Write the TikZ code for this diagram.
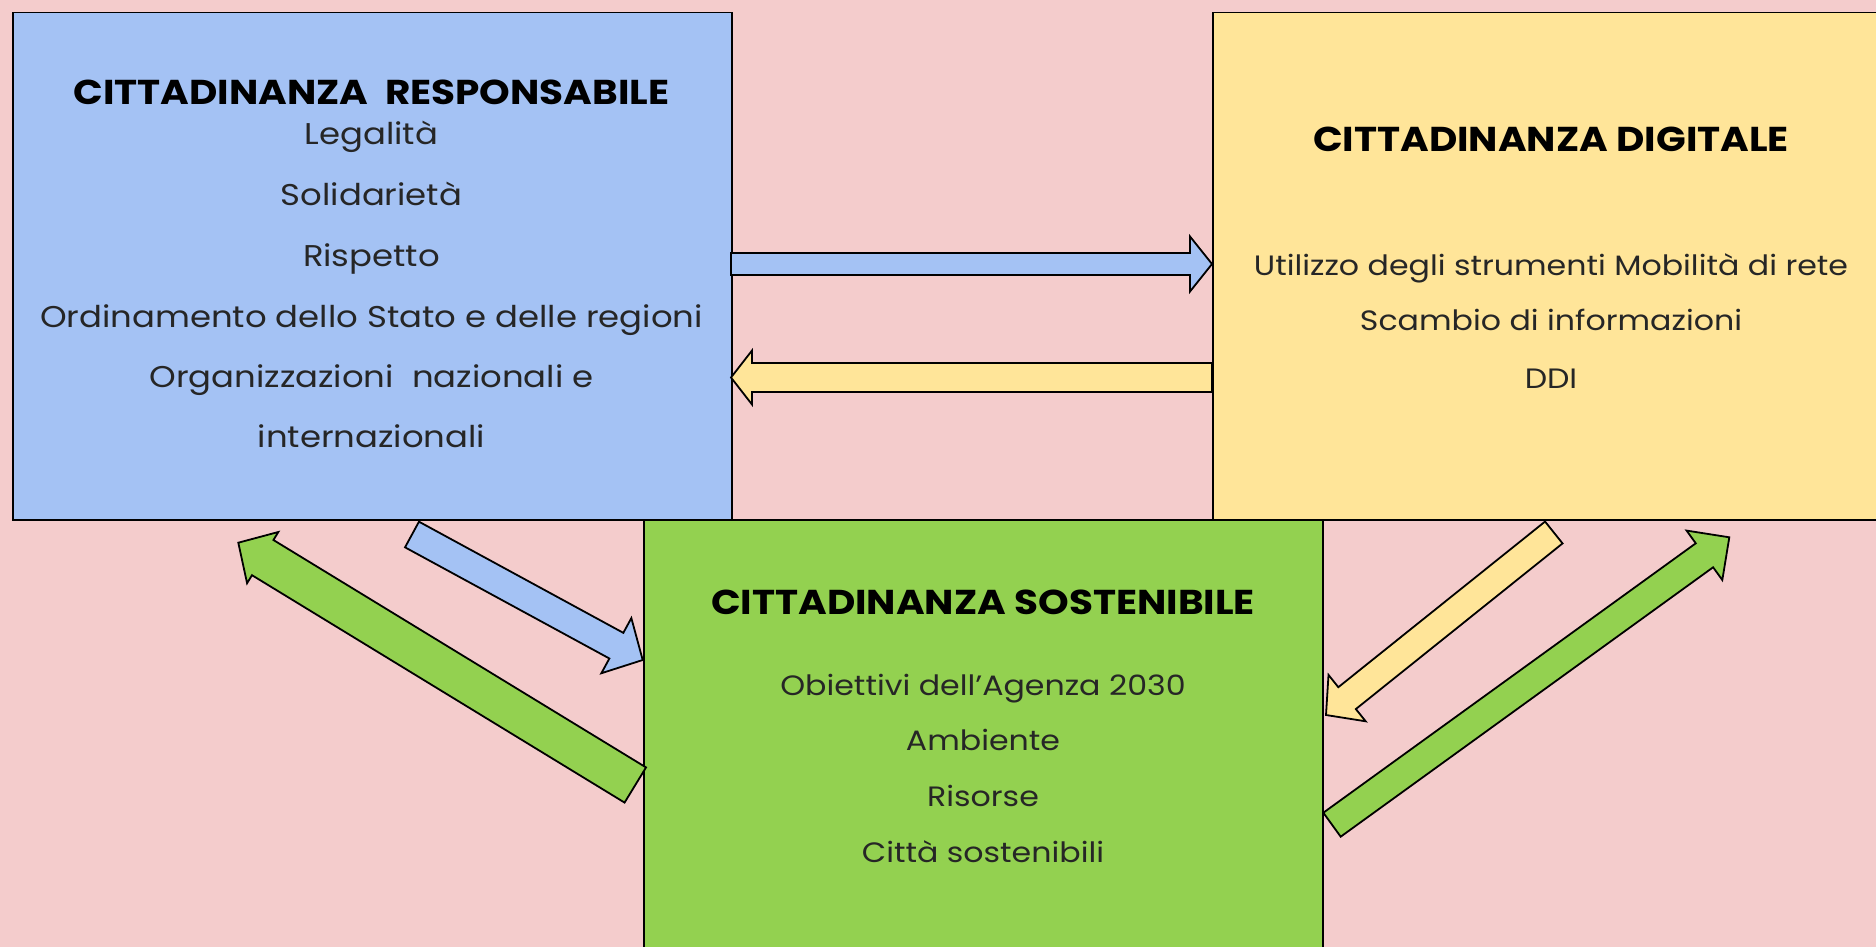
\documentclass[tikz,border=0pt]{standalone}
\usepackage{fontspec}
\setmainfont{Poppins}[FakeStretch=1.13]
\usetikzlibrary{calc}
\definecolor{bgpink}{HTML}{F4CCCC}
\definecolor{boxblue}{HTML}{A4C2F4}
\definecolor{boxyellow}{HTML}{FFE599}
\definecolor{boxgreen}{HTML}{93D150}
\tikzset{
  box/.style={draw=black, line width=1.5pt, inner sep=0pt, anchor=north west},
  arrowline/.style={draw=black, line width=1.8pt, line join=miter},
  titletext/.style={font=\fontsize{34.5}{40}\selectfont\bfseries, anchor=base, inner sep=0pt},
  bodytext/.style={font=\fontsize{30}{36}\selectfont, text=black!85, anchor=base, inner sep=0pt},
  smallbody/.style={bodytext, font=\fontsize{28}{34}\selectfont}
}
\newcommand\blockarrow[6]{%
  \coordinate (ba-base) at ($(#3)!#6!(#2)$);
  \draw[arrowline, fill=#1] ($(#2)!#4!90:(#3)$) -- ($(ba-base)!#4!90:(#3)$) -- ($(ba-base)!#5!90:(#3)$) -- (#3) -- ($(ba-base)!#5!-90:(#3)$) -- ($(ba-base)!#4!-90:(#3)$) -- ($(#2)!#4!-90:(#3)$) -- cycle;
}
\begin{document}
\begin{tikzpicture}[x=1pt,y=-1pt]
\useasboundingbox (0,0) rectangle (1876,947);
\clip (0,0) rectangle (1876,947);
\fill[bgpink] (0,0) rectangle (1876,947);
% boxes
\node[box, fill=boxblue, minimum width=719pt, minimum height=507pt] (resp) at (12,12) {};
\node[box, fill=boxyellow, minimum width=678pt, minimum height=507pt] (dig) at (1212,12) {};
\node[box, fill=boxgreen, minimum width=679pt, minimum height=441pt] (sost) at (643,519) {};
% arrow end points
\coordinate (a1s) at (731,264);
\coordinate (a1e) at (1212,264);
\coordinate (a2s) at (1212,377.5);
\coordinate (a2e) at (731,377.5);
\coordinate (a3s) at (412,534.5);
\coordinate (a3e) at (642.7,660);
\coordinate (a4s) at (635.3,785);
\coordinate (a4e) at (238.3,542.7);
\coordinate (a5s) at (1553.8,532.5);
\coordinate (a5e) at (1326,715);
\coordinate (a6s) at (1332,824.7);
\coordinate (a6e) at (1729.3,537.3);
\blockarrow{boxblue}{a1s}{a1e}{11pt}{27.5pt}{22pt}
\blockarrow{boxyellow}{a2s}{a2e}{14.5pt}{27pt}{21pt}
\blockarrow{boxblue}{a3s}{a3e}{14.6pt}{31.4pt}{30pt}
\blockarrow{boxgreen}{a4s}{a4e}{20.6pt}{30pt}{28.6pt}
\blockarrow{boxyellow}{a5s}{a5e}{14pt}{29.7pt}{27pt}
\blockarrow{boxgreen}{a6s}{a6e}{14.8pt}{30.5pt}{30.7pt}
% texts: responsabile
\node[titletext] (rt) at (371.5,105) {CITTADINANZA\ \ RESPONSABILE};
\node[bodytext] (r1) at (371.5,145) {Legalità};
\node[bodytext] (r2) at (371.5,205) {Solidarietà};
\node[bodytext] (r3) at (371.5,266) {Rispetto};
\node[bodytext] (r4) at (371.5,327) {Ordinamento dello Stato e delle regioni};
\node[bodytext] (r5) at (371.5,387) {Organizzazioni\ \ nazionali e};
\node[bodytext] (r6) at (371.5,447) {internazionali};
% digitale
\node[titletext] (dt) at (1551,151) {CITTADINANZA DIGITALE};
\node[smallbody] (d1) at (1551,275.5) {Utilizzo degli strumenti Mobilità di rete};
\node[smallbody] (d2) at (1551,330.5) {Scambio di informazioni};
\node[smallbody] (d3) at (1551,388) {DDI};
% sostenibile
\node[titletext] (st) at (983,614) {CITTADINANZA SOSTENIBILE};
\node[smallbody] (s1) at (983,695) {Obiettivi dell’Agenza 2030};
\node[smallbody] (s2) at (983,750) {Ambiente};
\node[smallbody] (s3) at (983,806.5) {Risorse};
\node[smallbody] (s4) at (983,862.5) {Città sostenibili};
\end{tikzpicture}
\end{document}
